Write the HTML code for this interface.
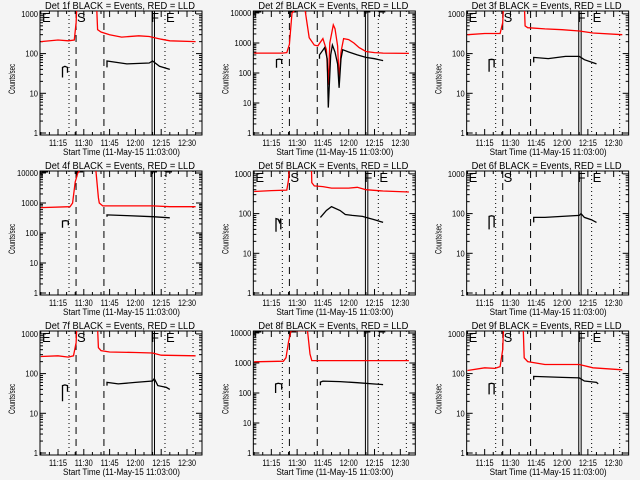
<!DOCTYPE html>
<html><head><meta charset="utf-8">
<style>
html,body{margin:0;padding:0;background:#f4f4f4;}
svg{display:block;font-family:"Liberation Sans",sans-serif;}
</style></head>
<body>
<svg id="chart" width="640" height="480" viewBox="0 0 640 480">
<rect x="0" y="0" width="640" height="480" fill="#f4f4f4"/>
</svg>
<script>
// Detector names and y maxima (decades)
const detNames = ["1f","2f","3f","4f","5f","6f","7f","8f","9f"];
const yMaxDecade = [3,4,3,4,3,3,3,4,3];
const xTickLabels = ["11:15","11:30","11:45","12:00","12:15","12:30"];
const xTickMinutes = [15,30,45,60,75,90];
// Times in minutes after 11:00; values in counts/sec
const p1RedT=[5,15,21,24.5,25.5,26.5,37,38,40,45,52,62,68,75,80,95];
const p1RedV=[200,220,210,220,600,5000,5000,400,350,300,260,280,270,230,210,200];
const p1BlkT=[17.6,17.6,19,20.5,20.5,null,43.5,43.5,55,68,70,74,80];
const p1BlkV=[25,45,48,45,33,null,45,65,55,58,65,48,40];
const p2RedT=[5,21,24,25.5,27,29,34.6,37,40,42,45,47,48.1,49,51,52,53.5,54.4,55.5,57,60,63,66,70,75,80,95];
const p2RedV=[460,460,480,900,10000,13000,13000,1500,850,800,1400,600,40,1000,4000,3000,800,58,500,1400,1300,1000,700,520,480,460,450];
const p2BlkT=[18,18,19.5,21,21,null,43,43,46,47.5,48.1,49.5,50.5,52,53.5,54.4,55.5,56.5,60,65,70,75,80];
const p2BlkV=[150,280,290,280,200,null,300,400,700,300,7,400,850,500,200,32,300,600,500,400,330,300,260];
const p3RedT=[5,15,24,25.5,26.5,37.7,38.5,40,50,60,70,78,95];
const p3RedV=[300,320,320,600,5000,5000,500,450,420,400,370,330,300];
const p3BlkT=[17.6,17.6,19,20.5,20.5,null,43.5,43.5,52,62,70,73,80];
const p3BlkV=[35,70,72,70,45,null,60,80,75,85,85,70,55];
const p4RedT=[5,22,23.5,25,26.5,28,37,38.5,39,41,70,80,95];
const p4RedV=[700,750,1000,5000,10000,13000,13000,1500,1000,800,800,750,750];
const p4BlkT=[17.6,17.6,19.5,21,21,null,43.5,43.5,55,70,80];
const p4BlkV=[150,250,260,250,180,null,350,400,380,350,320];
const p5RedT=[5,15,24,25,26,38,38.5,40,45,50,60,65,70,80,95];
const p5RedV=[360,380,390,700,5000,5000,600,500,480,440,440,460,400,370,350];
const p5BlkT=[17.7,17.7,19,19.8,20.5,20.5,null,43.5,47,50,55,58,62,68,70,75,80];
const p5BlkV=[35,75,72,60,75,40,null,80,120,150,120,95,90,85,80,70,60];
const p6RedT=[];
const p6RedV=[];
const p6BlkT=[17.6,17.6,19,20.5,20.5,null,43.5,43.5,50,60,70,71,73,77,80];
const p6BlkV=[40,85,88,85,45,null,60,80,80,85,90,100,80,70,60];
const p7RedT=[5,15,21,24,25.5,26.5,37.5,38.5,40,45,60,70,75,95];
const p7RedV=[270,280,260,280,600,5000,5000,450,380,350,340,330,290,280];
const p7BlkT=[17.6,17.6,19,20.5,20.5,null,43.5,43.5,50,60,70,71,73,78,80];
const p7BlkV=[20,50,52,50,35,null,50,60,55,60,65,75,50,45,40];
const p8RedT=[5,22,23.5,25,26.5,36,37.5,38.5,95];
const p8RedV=[1100,1150,1500,5000,12000,12000,2000,1200,1200];
const p8BlkT=[17.5,17.5,19,21,21,null,43.5,43.5,45,55,65,75,80];
const p8BlkV=[100,200,210,200,130,null,180,230,250,240,220,200,190];
const p9RedT=[5,15,21,24,25.5,26.5,37,38,40,50,70,78,95];
const p9RedV=[120,140,135,150,400,5000,5000,250,200,170,170,140,125];
const p9BlkT=[17.6,17.6,19,20.5,20.5,null,43.5,43.5,60,70,73,80,81];
const p9BlkV=[30,55,57,55,30,null,70,85,80,78,65,60,55];
const redT=[p1RedT,p2RedT,p3RedT,p4RedT,p5RedT,p6RedT,p7RedT,p8RedT,p9RedT];
const redV=[p1RedV,p2RedV,p3RedV,p4RedV,p5RedV,p6RedV,p7RedV,p8RedV,p9RedV];
const blkT=[p1BlkT,p2BlkT,p3BlkT,p4BlkT,p5BlkT,p6BlkT,p7BlkT,p8BlkT,p9BlkT];
const blkV=[p1BlkV,p2BlkV,p3BlkV,p4BlkV,p5BlkV,p6BlkV,p7BlkV,p8BlkV,p9BlkV];
// Event marker times (minutes after 11:00)
const dottedTimes=[21.4,77.2,93.5];
const dashedTimes=[25.5,41.7];
const solidTimes=[69.7,71.1];

const NS="http://www.w3.org/2000/svg";
const svg=document.getElementById("chart");
function mk(tag,attrs,parent){const e=document.createElementNS(NS,tag);for(const k in attrs)e.setAttribute(k,attrs[k]);(parent||svg).appendChild(e);return e;}

for(let p=0;p<9;p++){
  const col=(p%3)*213.33, row=Math.floor(p/3)*160;
  const x0=col+40,x1=col+202,y0=row+11,y1=row+135;
  const top=yMaxDecade[p];
  const dec=top===4?30:39.7;
  const xs=m=>col+58+(m-15)*1.72;
  const ys=v=>row+133-Math.log10(v)*dec;
  const g=mk("g",{});
  
  
  const cp=mk("clipPath",{id:"clip"+p},g);
  mk("rect",{x:x0,y:y0,width:x1-x0,height:y1-y0},cp);
  // title
  const t=mk("text",{x:col+45,y:row+9,"font-size":"10",fill:"#000",textLength:"150",lengthAdjust:"spacingAndGlyphs"},g);
  t.textContent="Det "+detNames[p]+" BLACK = Events, RED = LLD";
  
  
  // y title
  const yt=mk("text",{x:0,y:0,"font-size":"9",fill:"#000",textLength:"30",lengthAdjust:"spacingAndGlyphs",transform:"translate("+(col+15)+","+(row+94)+") rotate(-90)"},g);
  yt.textContent="Counts/sec";
  
  
  // x title
  const xt=mk("text",{x:col+63,y:row+155,"font-size":"9",fill:"#000",textLength:"117",lengthAdjust:"spacingAndGlyphs"},g);
  xt.textContent="Start Time (11-May-15 11:03:00)";
  
  
  // axes box
  const box=mk("rect",{x:x0,y:y0,width:x1-x0,height:y1-y0,fill:"none",stroke:"#000","stroke-width":"1"},g);
  
  
  // y ticks
  for(let d=0;d<=top;d++){
    const y=ys(Math.pow(10,d));
    mk("line",{x1:x0,x2:x0+6,y1:y,y2:y,stroke:"#000"},g);
    mk("line",{x1:x1-6,x2:x1,y1:y,y2:y,stroke:"#000"},g);
    const s=String(Math.pow(10,d));
    const w=s.length*4.2;
    const lb=mk("text",{x:col+38-w,y:y+3,"font-size":"8",fill:"#000",textLength:String(w),lengthAdjust:"spacingAndGlyphs"},g);
    lb.textContent=s;
    
    
    for(let k=2;k<10;k++){const v=k*Math.pow(10,d);const yy=ys(v);if(yy<y0)break;
      mk("line",{x1:x0,x2:x0+3,y1:yy,y2:yy,stroke:"#000"},g);
      mk("line",{x1:x1-3,x2:x1,y1:yy,y2:yy,stroke:"#000"},g);}
  }
  // x ticks
  for(let i=0;i<xTickMinutes.length;i++){
    const x=xs(xTickMinutes[i]);
    mk("line",{x1:x,x2:x,y1:y1,y2:y1-6,stroke:"#000"},g);
    mk("line",{x1:x,x2:x,y1:y0,y2:y0+6,stroke:"#000"},g);
    const lb=mk("text",{x:x-9,y:row+146,"font-size":"9",fill:"#000",textLength:"18",lengthAdjust:"spacingAndGlyphs"},g);
    lb.textContent=xTickLabels[i];
    
    
  }
  for(let m=5;m<=95;m+=5){if(m%15===0)continue;const x=xs(m);
    mk("line",{x1:x,x2:x,y1:y1,y2:y1-3,stroke:"#000"},g);
    mk("line",{x1:x,x2:x,y1:y0,y2:y0+3,stroke:"#000"},g);}
  // markers
  dottedTimes.forEach(m=>{const l=mk("line",{x1:xs(m),x2:xs(m),y1:y0,y2:y1,stroke:"#000","stroke-dasharray":"1,3"},g);
    
    });
  dashedTimes.forEach(m=>{const l=mk("line",{x1:xs(m),x2:xs(m),y1:y0,y2:y1,stroke:"#000","stroke-dasharray":"7,5"},g);
    
    });
  solidTimes.forEach(m=>{const l=mk("line",{x1:xs(m),x2:xs(m),y1:y0,y2:y1,stroke:"#000"},g);
    
    });
  // letters
  const letters=[["E",col+42],["S",col+77],["F",col+151],["E",col+166]];
  letters.forEach(([ch,x])=>{
    if(top===4){mk("path",{d:"M"+x+" "+(row+17)+"V"+(row+12)+"H"+(x+6),fill:"none",stroke:"#000"},g);}
    else{const lt=mk("text",{x:x,y:row+22,"font-size":"13",fill:"#000"},g);lt.textContent=ch;
      
      }
  });
  // series
  function series(T,V,color,name){
    let d="",pen=false;
    for(let i=0;i<T.length;i++){
      if(T[i]===null){pen=false;continue;}
      d+=(pen?"L":"M")+xs(T[i]).toFixed(1)+" "+ys(V[i]).toFixed(1);pen=true;
    }
    if(!d)return;
    const pth=mk("path",{d:d,fill:"none",stroke:color,"stroke-width":"1.3","clip-path":"url(#clip"+p+")"},g);
    
    
  }
  series(redT[p],redV[p],"#ff0000","lld-series");
  series(blkT[p],blkV[p],"#000000","events-series");
}
</script>
</body></html>
